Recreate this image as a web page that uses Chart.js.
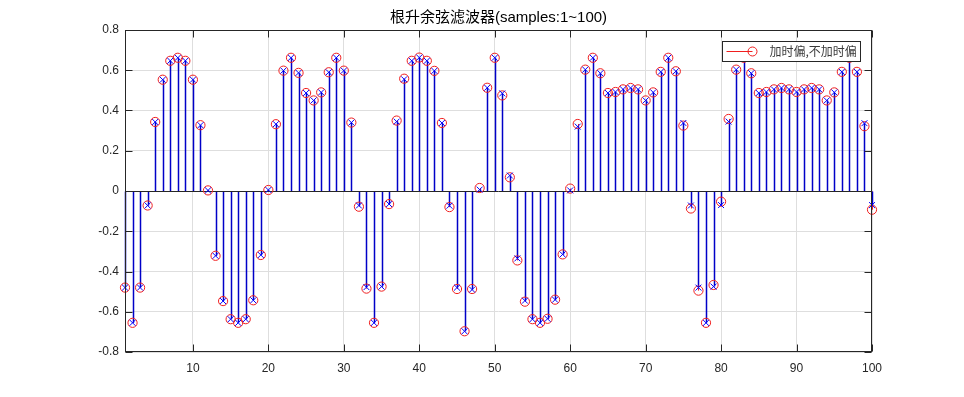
<!DOCTYPE html>
<html>
<head>
<meta charset="utf-8">
<title>根升余弦滤波器</title>
<script src="https://cdn.jsdelivr.net/npm/chart.js@4.4.1/dist/chart.umd.min.js"></script>
<style>
  body { margin: 0; background: #fff; }
  canvas { display: block; }
</style>
</head>
<body>
<canvas id="chart" width="964" height="397"></canvas>
<script>
  // sample index 1..100
  const samples = Array.from({ length: 100 }, (_, i) => i + 1);

  // 加时偏 (red circles)
  const withOffset = [
    -0.48, -0.655, -0.48, -0.072, 0.343, 0.553, 0.647, 0.662, 0.647, 0.553,
    0.327, 0.003, -0.322, -0.547, -0.637, -0.655, -0.637, -0.543, -0.318, 0.005,
    0.332, 0.598, 0.662, 0.587, 0.487, 0.45, 0.49, 0.59, 0.662, 0.598,
    0.34, -0.078, -0.485, -0.655, -0.475, -0.065, 0.35, 0.558, 0.647, 0.663,
    0.647, 0.597, 0.338, -0.08, -0.487, -0.697, -0.487, 0.015, 0.513, 0.662,
    0.475, 0.068, -0.345, -0.55, -0.637, -0.655, -0.635, -0.54, -0.315, 0.012,
    0.333, 0.603, 0.662, 0.585, 0.487, 0.492, 0.505, 0.512, 0.505, 0.45,
    0.49, 0.592, 0.662, 0.595, 0.325, -0.087, -0.495, -0.655, -0.467, -0.053,
    0.358, 0.603, 0.662, 0.585, 0.487, 0.492, 0.505, 0.512, 0.505, 0.492,
    0.505, 0.512, 0.505, 0.45, 0.49, 0.592, 0.662, 0.592, 0.322, -0.093
  ];

  // 不加时偏 (blue crosses)
  const withoutOffset = [
    -0.48, -0.655, -0.48, -0.072, 0.343, 0.553, 0.647, 0.662, 0.647, 0.553,
    0.327, 0.003, -0.322, -0.547, -0.637, -0.655, -0.637, -0.543, -0.318, 0.005,
    0.332, 0.598, 0.662, 0.587, 0.487, 0.45, 0.49, 0.59, 0.662, 0.598,
    0.34, -0.072, -0.478, -0.655, -0.475, -0.065, 0.345, 0.555, 0.647, 0.663,
    0.647, 0.597, 0.338, -0.073, -0.48, -0.697, -0.49, 0.007, 0.513, 0.662,
    0.485, 0.077, -0.335, -0.545, -0.637, -0.655, -0.635, -0.54, -0.315, 0.003,
    0.32, 0.603, 0.662, 0.585, 0.487, 0.492, 0.505, 0.512, 0.505, 0.45,
    0.49, 0.592, 0.662, 0.595, 0.338, -0.072, -0.48, -0.655, -0.475, -0.07,
    0.345, 0.603, 0.662, 0.585, 0.487, 0.492, 0.505, 0.512, 0.505, 0.492,
    0.505, 0.512, 0.505, 0.45, 0.49, 0.592, 0.662, 0.592, 0.337, -0.07
  ];

  const xTicks = [10, 20, 30, 40, 50, 60, 70, 80, 90, 100];
  const yTicks = [-0.8, -0.6, -0.4, -0.2, 0, 0.2, 0.4, 0.6, 0.8];

  const titleText = '根升余弦滤波器(samples:1~100)';
  const legendLabel = '加时偏,不加时偏';

  const red = 'rgb(240, 30, 30)';
  const blue = '#0000ff';
  const blueStem = '#0000c8';
  const axisColor = '#262626';
  const gridColor = '#dedede';
  const latinFont = '"Liberation Sans", "Noto Sans CJK SC", sans-serif';
  const cjkFont = '"Noto Sans CJK SC", "Liberation Sans", sans-serif';

  const fmtY = v => String(Number(v.toFixed(1)));

  // stems + baseline, drawn under the markers (red first, blue over it)
  const stemPlugin = {
    id: 'stems',
    beforeDatasetsDraw(chart) {
      const { ctx, scales: { x, y } } = chart;
      const base = Math.round(y.getPixelForValue(0)) + 0.5;
      ctx.save();
      [[1, red, 1], [0, blueStem, 1.5]].forEach(([idx, col, w]) => {
        const meta = chart.getDatasetMeta(idx);
        ctx.strokeStyle = col;
        ctx.lineWidth = w;
        ctx.beginPath();
        meta.data.forEach(pt => {
          const px = Math.round(pt.x) + 0.5;
          ctx.moveTo(px, base);
          ctx.lineTo(px, pt.y);
        });
        ctx.stroke();
      });
      ctx.lineWidth = 1;
      ctx.strokeStyle = axisColor;
      ctx.beginPath();
      ctx.moveTo(x.getPixelForValue(samples[0]), base);
      ctx.lineTo(x.getPixelForValue(samples[samples.length - 1]), base);
      ctx.stroke();
      ctx.restore();
    }
  };

  // MATLAB style box, inward ticks, y labels, title and legend
  const framePlugin = {
    id: 'frame',
    afterDraw(chart) {
      const { ctx, chartArea: a, scales: { x, y } } = chart;
      const L = a.left + 0.5, R = Math.round(a.right) - 0.5;
      const T = a.top + 0.5, B = Math.round(a.bottom) - 0.5;
      const tl = 7;
      ctx.save();
      ctx.strokeStyle = axisColor;
      ctx.lineWidth = 1;
      ctx.beginPath();
      x.ticks.forEach(t => {
        const px = Math.round(x.getPixelForValue(t.value)) + 0.5;
        ctx.moveTo(px, B); ctx.lineTo(px, B - tl);
        ctx.moveTo(px, T); ctx.lineTo(px, T + tl);
      });
      y.ticks.forEach(t => {
        const py = Math.round(y.getPixelForValue(t.value)) + 0.5;
        ctx.moveTo(L, py); ctx.lineTo(L + tl, py);
        ctx.moveTo(R, py); ctx.lineTo(R - tl, py);
      });
      ctx.stroke();
      ctx.strokeRect(L, T, R - L, B - T);

      // y tick labels
      ctx.fillStyle = axisColor;
      ctx.font = '12px ' + latinFont;
      ctx.textAlign = 'right';
      ctx.textBaseline = 'middle';
      y.ticks.forEach(t => {
        ctx.fillText(fmtY(t.value), a.left - 6, y.getPixelForValue(t.value));
      });

      // title
      ctx.fillStyle = '#000';
      ctx.font = '15px ' + latinFont;
      ctx.textAlign = 'center';
      ctx.fillText(titleText, (a.left + a.right) / 2, 18);

      // legend
      const lw = 138, lh = 20;
      const lx = Math.round(a.right) - 12 - lw + 0.5, ly = a.top + 11.5;
      ctx.fillStyle = '#fff';
      ctx.fillRect(lx, ly, lw, lh);
      ctx.strokeStyle = axisColor;
      ctx.strokeRect(lx, ly, lw, lh);
      const my = ly + lh / 2;
      ctx.strokeStyle = red;
      ctx.beginPath();
      ctx.moveTo(lx + 4, my); ctx.lineTo(lx + 30, my);
      ctx.stroke();
      ctx.beginPath();
      ctx.arc(lx + 30, my, 4.5, 0, Math.PI * 2);
      ctx.stroke();
      ctx.fillStyle = '#3a3a3a';
      ctx.font = '12px ' + cjkFont;
      ctx.textAlign = 'left';
      ctx.fillText(legendLabel, lx + 47, my);
      ctx.restore();
    }
  };

  const chart = new Chart(document.getElementById('chart'), {
    type: 'scatter',
    data: {
      datasets: [
        {
          label: '不加时偏',
          data: samples.map((s, i) => ({ x: s, y: withoutOffset[i] })),
          pointStyle: 'crossRot',
          pointRadius: 4.2,
          borderColor: blue,
          borderWidth: 1,
          backgroundColor: 'rgba(0,0,0,0)',
          clip: false
        },
        {
          label: '加时偏',
          data: samples.map((s, i) => ({ x: s, y: withOffset[i] })),
          pointStyle: 'circle',
          pointRadius: 4.6,
          borderColor: red,
          borderWidth: 1,
          backgroundColor: 'rgba(0,0,0,0)',
          clip: false
        }
      ]
    },
    options: {
      responsive: false,
      animation: false,
      events: [],
      devicePixelRatio: 1,
      layout: { padding: { left: 0, right: 92, top: 30, bottom: 0 } },
      plugins: {
        legend: { display: false },
        title: { display: false },
        tooltip: { enabled: false }
      },
      scales: {
        x: {
          type: 'linear',
          min: 1,
          max: 100,
          offset: false,
          afterBuildTicks: s => { s.ticks = xTicks.map(v => ({ value: v })); },
          afterFit: s => { s.height = 45; },
          grid: { color: gridColor, drawTicks: false },
          border: { display: false },
          ticks: {
            padding: 9,
            color: axisColor,
            font: { family: latinFont, size: 12 },
            maxRotation: 0
          }
        },
        y: {
          min: -0.8,
          max: 0.8,
          afterBuildTicks: s => { s.ticks = yTicks.map(v => ({ value: v })); },
          afterFit: s => { s.width = 125; },
          grid: { color: gridColor, drawTicks: false },
          border: { display: false },
          ticks: { display: false }
        }
      }
    },
    plugins: [stemPlugin, framePlugin]
  });
</script>
</body>
</html>
